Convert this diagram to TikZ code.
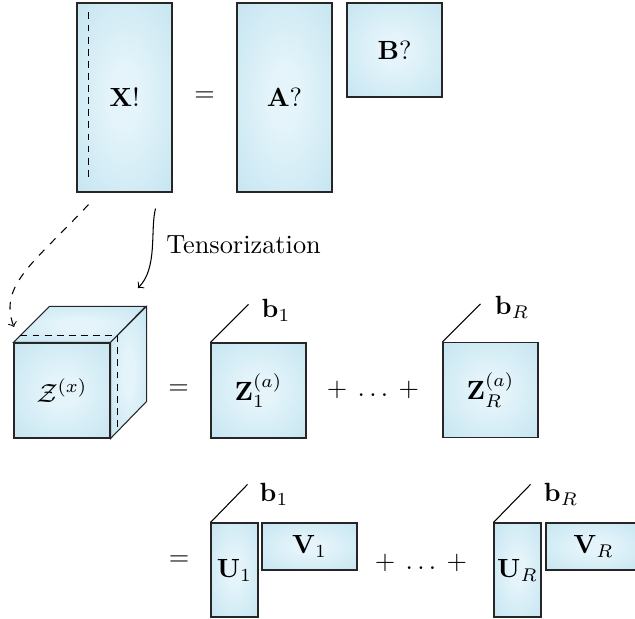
\documentclass[tikz,border=0pt]{standalone}
\usetikzlibrary{calc}
\definecolor{matblue}{RGB}{184,223,237}
\definecolor{matlight}{RGB}{228,244,250}
\pgfdeclareradialshading{matshade}{\pgfpoint{0bp}{0bp}}{color(0bp)=(matlight); color(8bp)=(matlight); color(48bp)=(matblue); color(100bp)=(matblue)}
\newcommand{\pxu}{0.38pt}
\tikzset{
	mat/.style={draw=black!85, shade, shading=matshade, inner sep=0pt},
	sz/.style 2 args={minimum width=#1*\pxu, minimum height=#2*\pxu},
	hidden/.style={dash pattern=on 2.6pt off 2pt},
}
\begin{document}
\begin{tikzpicture}[x=\pxu, y=-\pxu, >=to]
	\useasboundingbox (0,0) rectangle (635,619);
	\node[mat, sz={95}{189}] (x) at (124.5,97.5) {$\mathbf{X}!$};
	\draw[hidden] ($(x.north west)+(12,10)$) -- ($(x.south west)+(12,-12)$);
	\node (eq1) at (204.5,97) {$=$};
	\node[mat, sz={95}{189}] (a) at (284.5,97.5) {$\mathbf{A}?$};
	\node[mat, sz={95}{94}] (b) at (394.5,50) {$\mathbf{B}?$};

	\node[mat, sz={96}{95}] (cube) at (62,390.5) {$\mathcal{Z}^{(x)}$};
	\draw[mat] (cube.north west) -- ++(36,-36) -- ++(96,0) -- (cube.north east) -- cycle;
	\draw[mat] (cube.north east) -- ++(36,-36) -- ++(0,95) -- (cube.south east) -- cycle;
	\draw[hidden] ($(cube.north west)+(7,-7)$) -- ($(cube.north east)+(7,-7)$) -- ($(cube.south east)+(7,-7)$);

	\node[anchor=west] (tens) at (157,245) {Tensorization};
	\coordinate (tend) at (138,288);
	\coordinate (dend) at (14,327);
	\draw[->] ($(x.south)+(31,16)$) .. controls (150,230) and (158,268) .. (tend);
	\draw[->, dashed] ($(x.south)+(-36,12)$) .. controls (35,262) and (-2,285) .. (dend);

	\node (eq2) at (178.5,390) {$=$};
	\node[mat, sz={95}{95}] (z1) at (258.5,390.5) {$\mathbf{Z}_1^{(a)}$};
	\node (b1) at (276,310) {$\mathbf{b}_1$};
	\coordinate (z1b) at ($(z1.north west)+(38,-38)$);
	\draw (z1.north west) -- (z1b);
	\node (dots1) at (373,390) {$+\:\dots\:+$};
	\node[mat, sz={95}{95}] (zr) at (490.5,390) {$\mathbf{Z}_R^{(a)}$};
	\node (br) at (512,307) {$\mathbf{b}_R$};
	\coordinate (zrb) at ($(zr.north west)+(38,-38)$);
	\draw (zr.north west) -- (zrb);

	\node (eq3) at (179,561) {$=$};
	\node[mat, sz={47}{94}] (u1) at (234.5,570) {$\mathbf{U}_1$};
	\node[mat, sz={95}{47}] (v1) at (309.5,546.5) {$\mathbf{V}_1$};
	\node (b1l) at (274,494) {$\mathbf{b}_1$};
	\coordinate (u1b) at ($(u1.north west)+(37,-38)$);
	\draw (u1.north west) -- (u1b);
	\node (dots2) at (421,563) {$+\:\dots\:+$};
	\node[mat, sz={47}{94}] (ur) at (517.5,570) {$\mathbf{U}_R$};
	\node[mat, sz={95}{47}] (vr) at (593.5,546.5) {$\mathbf{V}_R$};
	\node (brl) at (561,494) {$\mathbf{b}_R$};
	\coordinate (urb) at ($(ur.north west)+(37,-38)$);
	\draw (ur.north west) -- (urb);
\end{tikzpicture}
\end{document}
